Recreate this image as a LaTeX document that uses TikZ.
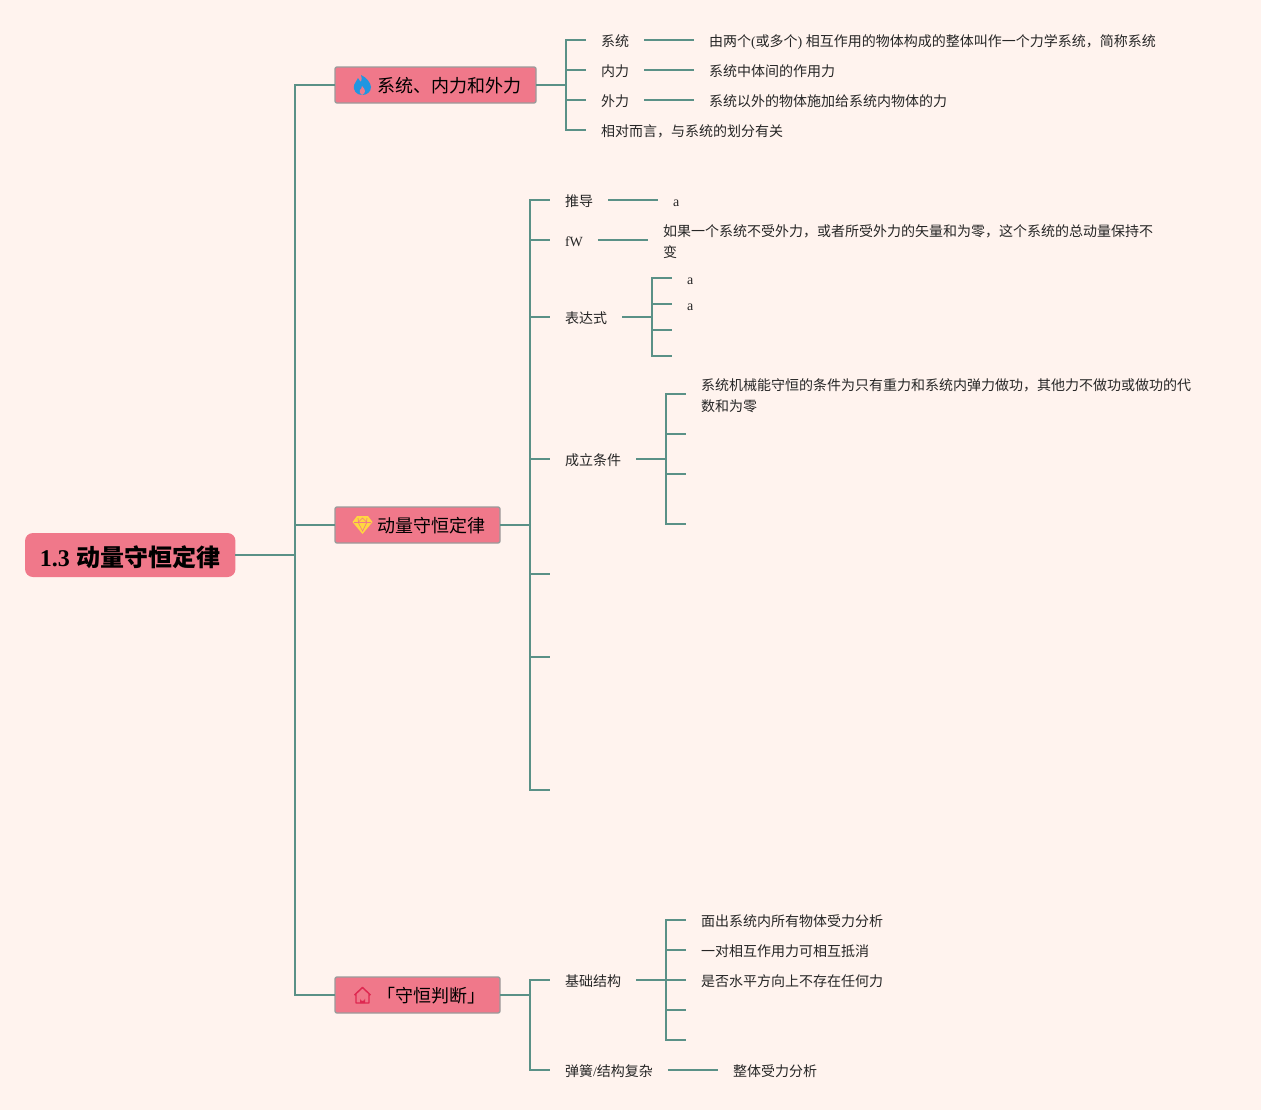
\documentclass[tikz,border=0pt]{standalone}
\usepackage{fontspec}
\setmainfont{Liberation Serif}
\newfontfamily\cjk{Noto Sans CJK SC}
\usepackage{xcolor}
\definecolor{mmbg}{RGB}{255,243,238}
\definecolor{mmpink}{RGB}{240,120,138}
\definecolor{mmteal}{RGB}{90,145,135}
\definecolor{mmgray}{RGB}{155,155,155}
\definecolor{mmblue}{RGB}{33,150,224}
\definecolor{mmyellow}{RGB}{255,214,64}
\definecolor{mmred}{RGB}{222,40,80}
\usetikzlibrary{positioning}
\newcommand{\lat}[1]{{\rmfamily #1}}
\tikzset{
  link/.style={draw=mmteal, line width=1.65pt},
  rootbox/.style={fill=mmpink, rounded corners=6pt, anchor=west, outer sep=0pt, inner xsep=11.25pt, inner ysep=0pt,
    minimum width=157.5pt, minimum height=33pt, text height=18.6pt, text depth=2pt,
    font=\cjk\bfseries\fontsize{18}{22}\selectfont},
  topicbox/.style={fill=mmpink, draw=mmgray, line width=1pt, rounded corners=1.5pt, anchor=west, outer sep=0pt,
    inner xsep=11.25pt, inner ysep=0pt, minimum height=27pt, text height=13.3pt, text depth=1.5pt,
    font=\cjk\fontsize{13.5}{16}\selectfont},
  leaf/.style={anchor=west, outer sep=0pt, inner xsep=11.25pt, inner ysep=2pt, text=black!85, text height=10.4pt, text depth=1.2pt,
    font=\cjk\fontsize{10.5}{15.4}\selectfont},
  longleaf/.style={anchor=west, outer sep=0pt, inner xsep=11.25pt, inner ysep=2pt, text=black!85, align=left,
    font=\cjk\fontsize{10.5}{15.4}\selectfont},
}
\begin{document}
\begin{tikzpicture}[x=0.75pt, y=-0.75pt]
  \useasboundingbox (0,0) rectangle (1261,1110);
  \fill[mmbg] (0,0) rectangle (1261,1110);

  % --- Root and main topics ---
  \node[rootbox] (root) at (25,555) {\lat{1.3}\hspace{.75pt} 动量守恒定律};
  \node[topicbox] (sys) at (335,85) {\hspace*{20.25pt}系统、内力和外力};
  \node[topicbox] (law) at (335,525) {\hspace*{20.25pt}动量守恒定律};
  \node[topicbox] (judge) at (335,995) {\hspace*{20.25pt}「守恒判断」};
  \coordinate (trunk) at (295,555);
  \draw[link] (root.east) -- (trunk) |- (sys.west);
  \draw[link] (trunk) |- (law.west);
  \draw[link] (trunk) |- (judge.west);

  % Icons
  \fill[mmblue] (362,95) .. controls (356,95) and (353,90) .. (354,85)
    .. controls (355,82) and (357,81) .. (358,78) .. controls (359,80) and (360,81) .. (361,82)
    .. controls (362,80) and (362,77) .. (361,75) .. controls (366,77) and (371,83) .. (371,87)
    .. controls (371,92) and (367,95) .. (362,95) -- cycle;
  \fill[mmpink] (362,95) .. controls (360,94) and (359,92) .. (360,90)
    .. controls (361,89) and (362,88) .. (362,86) .. controls (364,88) and (365,90) .. (365,91)
    .. controls (365,93) and (364,94) .. (362,95) -- cycle;
  \fill[mmyellow, line join=round]
    (357,516) -- (368,516) -- (372.5,522) -- (362.5,534) -- (352.5,522) -- cycle;
  \draw[mmpink, line width=0.5pt] (354,522.5) -- (371,522.5) (358.5,523) -- (362.5,531) -- (366.5,523)
    (358,518) -- (358.5,522) -- (362.5,518) -- (366.5,522) -- (367,518);
  \draw[mmred, line width=1.1pt, line join=round] (354.5,995) -- (362.5,987.5) -- (370.5,995)
    (356,994) -- (356,1003) -- (369,1003) -- (369,994);
  \fill[mmred] (360,1003) -- (360,998.5) arc[start angle=180, end angle=0, radius=2.5] -- (365,1003) -- cycle;

  % --- Topic 1 ---
  \coordinate (sysbus) at (566,85);
  \node[leaf] (sysa) at (586,40) {系统};
  \node[leaf] (sysb) at (586,70) {内力};
  \node[leaf] (sysc) at (586,100) {外力};
  \node[leaf] (sysd) at (586,130) {相对而言，与系统的划分有关};
  \node[leaf] (sysatext) at (694,40) {由两个\lat{(}或多个\lat{) }相互作用的物体构成的整体叫作一个力学系统，简称系统};
  \node[leaf] (sysbtext) at (694,70) {系统中体间的作用力};
  \node[leaf] (sysctext) at (694,100) {系统以外的物体施加给系统内物体的力};
  \draw[link] (sys.east) -- (sysbus) |- (sysa.west);
  \draw[link] (sysbus) |- (sysb.west);
  \draw[link] (sysbus) |- (sysc.west);
  \draw[link] (sysbus) |- (sysd.west);
  \draw[link] (sysa.east) -- (sysatext.west);
  \draw[link] (sysb.east) -- (sysbtext.west);
  \draw[link] (sysc.east) -- (sysctext.west);

  % --- Topic 2 ---
  \coordinate (lawbus) at (530,525);
  \node[leaf] (derive) at (550,200) {推导};
  \node[leaf] (fw) at (550,240) {\lat{fW}};
  \node[leaf] (expr) at (550,317) {表达式};
  \node[leaf] (cond) at (550,459) {成立条件};
  \coordinate (lawe) at (550,574);
  \coordinate (lawf) at (550,657);
  \coordinate (lawg) at (550,790);
  \draw[link] (law.east) -- (lawbus) |- (derive.west);
  \draw[link] (lawbus) |- (fw.west);
  \draw[link] (lawbus) |- (expr.west);
  \draw[link] (lawbus) |- (cond.west);
  \draw[link] (lawbus) |- (lawe);
  \draw[link] (lawbus) |- (lawf);
  \draw[link] (lawbus) |- (lawg);
  \node[leaf] (derivetext) at (658,200) {\lat{a}};
  \draw[link] (derive.east) -- (derivetext.west);
  \node[longleaf] (fwtext) at (648,240) {\rule{0pt}{11.5pt}如果一个系统不受外力，或者所受外力的矢量和为零，这个系统的总动量保持不\\变};
  \draw[link] (fw.east) -- (fwtext.west);
  % expression
  \coordinate (exprbus) at (652,317);
  \node[leaf] (expra) at (672,278) {\lat{a}};
  \node[leaf] (exprb) at (672,304) {\lat{a}};
  \coordinate (exprc) at (672,330);
  \coordinate (exprd) at (672,356);
  \draw[link] (expr.east) -- (exprbus) |- (expra.west);
  \draw[link] (exprbus) |- (exprb.west);
  \draw[link] (exprbus) |- (exprc);
  \draw[link] (exprbus) |- (exprd);
  % condition
  \coordinate (condbus) at (666,459);
  \node[longleaf] (conda) at (686,394) {\rule{0pt}{11.5pt}系统机械能守恒的条件为只有重力和系统内弹力做功，其他力不做功或做功的代\\数和为零};
  \coordinate (condb) at (686,434);
  \coordinate (condc) at (686,474);
  \coordinate (condd) at (686,524);
  \draw[link] (cond.east) -- (condbus) |- (conda.west);
  \draw[link] (condbus) |- (condb);
  \draw[link] (condbus) |- (condc);
  \draw[link] (condbus) |- (condd);

  % --- Topic 3 ---
  \coordinate (judgebus) at (530,995);
  \node[leaf] (base) at (550,980) {基础结构};
  \node[leaf] (spring) at (550,1070) {弹簧\lat{/}结构复杂};
  \node[leaf] (springtext) at (718,1070) {整体受力分析};
  \draw[link] (judge.east) -- (judgebus) |- (base.west);
  \draw[link] (judgebus) |- (spring.west);
  \draw[link] (spring.east) -- (springtext.west);
  \coordinate (basebus) at (666,980);
  \node[leaf] (basea) at (686,920) {面出系统内所有物体受力分析};
  \node[leaf] (baseb) at (686,950) {一对相互作用力可相互抵消};
  \node[leaf] (basec) at (686,980) {是否水平方向上不存在任何力};
  \coordinate (based) at (686,1010);
  \coordinate (basee) at (686,1040);
  \draw[link] (base.east) -- (basebus) |- (basea.west);
  \draw[link] (basebus) |- (baseb.west);
  \draw[link] (basebus) -- (basec.west);
  \draw[link] (basebus) |- (based);
  \draw[link] (basebus) |- (basee);
\end{tikzpicture}
\end{document}
